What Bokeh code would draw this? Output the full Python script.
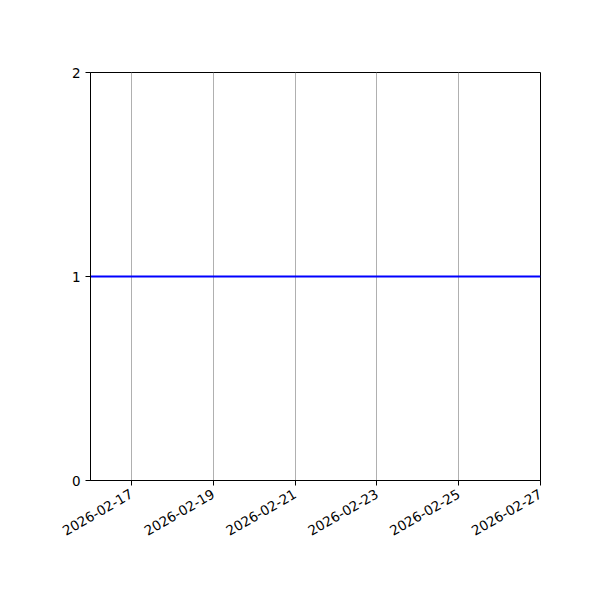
import math
from datetime import datetime
from bokeh.plotting import figure
from bokeh.models import FixedTicker, DatetimeTickFormatter, Range1d
from bokeh.embed import file_html
from bokeh.resources import INLINE

dates = ["2026-02-16", "2026-02-17", "2026-02-18", "2026-02-19", "2026-02-20", "2026-02-21",
         "2026-02-22", "2026-02-23", "2026-02-24", "2026-02-25", "2026-02-26", "2026-02-27"]
values = [1, 1, 1, 1, 1, 1, 1, 1, 1, 1, 1, 1]
x_tick_dates = ["2026-02-17", "2026-02-19", "2026-02-21", "2026-02-23", "2026-02-25", "2026-02-27"]
y_ticks = [0, 1, 2]

def ms(s):
    return (datetime.strptime(s, "%Y-%m-%d") - datetime(1970, 1, 1)).total_seconds() * 1000.0

xs = [datetime.strptime(d, "%Y-%m-%d") for d in dates]

p = figure(width=600, height=600, x_axis_type="datetime", output_backend="svg",
           toolbar_location=None, min_border_left=90, min_border_right=60,
           min_border_top=72, min_border_bottom=120)
p.x_range = Range1d(ms(dates[0]), ms(dates[-1]))
p.y_range = Range1d(0, 2)
p.line(xs, values, line_color="blue", line_width=2)

p.xaxis.ticker = FixedTicker(ticks=[ms(d) for d in x_tick_dates])
p.xaxis.formatter = DatetimeTickFormatter(days="%Y-%m-%d", months="%Y-%m-%d", hours="%Y-%m-%d")
p.xaxis.major_label_orientation = math.pi / 6
p.xaxis.major_label_standoff = 7
p.yaxis.ticker = FixedTicker(ticks=y_ticks)

for ax in (p.xaxis, p.yaxis):
    ax.major_label_text_font = "DejaVu Sans"
    ax.major_label_text_font_size = "13.5px"
    ax.major_label_text_color = "black"
    ax.axis_line_color = "black"
    ax.major_tick_line_color = "black"
    ax.major_tick_out = 5
    ax.major_tick_in = 0
    ax.minor_tick_line_color = None

p.xgrid.grid_line_color = "#b0b0b0"
p.xgrid.grid_line_width = 1
p.ygrid.grid_line_color = None
p.outline_line_color = "black"
p.outline_line_width = 1

open("out.html", "w").write(file_html(p, INLINE))
